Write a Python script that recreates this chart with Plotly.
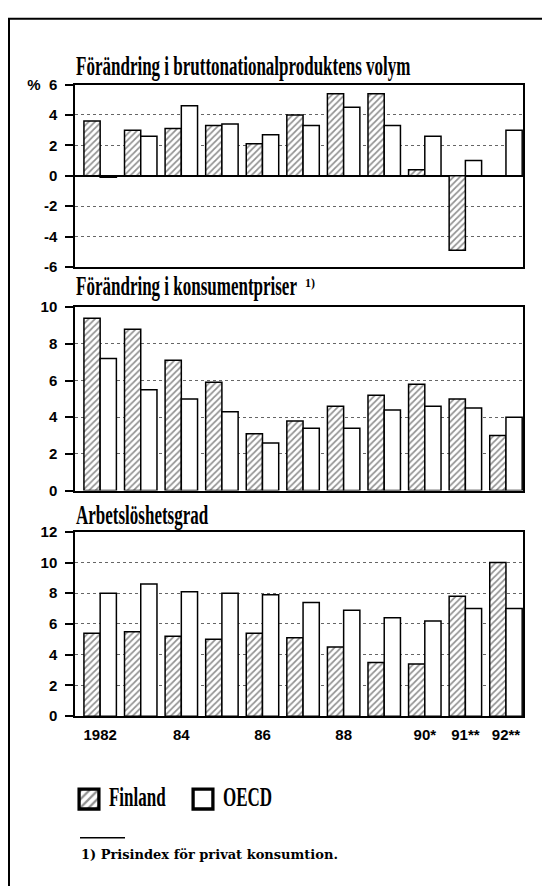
import plotly.graph_objects as go

# ---------------- data ----------------
years = [1982, 1983, 1984, 1985, 1986, 1987, 1988, 1989, 1990, 1991, 1992]
year_labels = ["1982", "", "84", "", "86", "", "88", "", "90*", "91**", "92**"]

gdp_finland = [3.6, 3.0, 3.1, 3.3, 2.1, 4.0, 5.4, 5.4, 0.4, -4.9, 0.0]
gdp_oecd = [-0.1, 2.6, 4.6, 3.4, 2.7, 3.3, 4.5, 3.3, 2.6, 1.0, 3.0]

cpi_finland = [9.4, 8.8, 7.1, 5.9, 3.1, 3.8, 4.6, 5.2, 5.8, 5.0, 3.0]
cpi_oecd = [7.2, 5.5, 5.0, 4.3, 2.6, 3.4, 3.4, 4.4, 4.6, 4.5, 4.0]

unemp_finland = [5.4, 5.5, 5.2, 5.0, 5.4, 5.1, 4.5, 3.5, 3.4, 7.8, 10.0]
unemp_oecd = [8.0, 8.6, 8.1, 8.0, 7.9, 7.4, 6.9, 6.4, 6.2, 7.0, 7.0]

titles = ["Förändring i bruttonationalproduktens volym",
          "Förändring i konsumentpriser",
          "Arbetslöshetsgrad"]
footnote_mark = "1)"
footnote = "1) Prisindex för privat konsumtion."

# ---------------- layout helpers ----------------
W, H = 542, 886
def px(x):
    return x / W
def py(y):
    return 1 - y / H

TITLE_FONT = dict(family="Liberation Serif", size=17, color="black", weight="bold")
TICK_FONT = dict(family="Liberation Sans", size=15, color="black", weight="bold")

fig = go.Figure()

panels = [
    (gdp_finland, gdp_oecd, "", "y"),
    (cpi_finland, cpi_oecd, "2", "y2"),
    (unemp_finland, unemp_oecd, "3", "y3"),
]

for i, (fin, oecd, sfx, yref) in enumerate(panels):
    xa = "x" + sfx
    fig.add_trace(go.Bar(
        x=years, y=fin, name="Finland", xaxis=xa, yaxis=yref,
        showlegend=(i == 0), legendgroup="fin",
        marker=dict(color="white",
                    line=dict(color="black", width=1.5),
                    pattern=dict(shape="/", fgcolor="#222222", bgcolor="white",
                                 size=4.5, solidity=0.38)),
    ))
    fig.add_trace(go.Bar(
        x=years, y=oecd, name="OECD", xaxis=xa, yaxis=yref,
        showlegend=(i == 0), legendgroup="oecd",
        marker=dict(color="white", line=dict(color="black", width=1.5)),
    ))

x_dom = [px(75), px(523)]
x_range = [1981.38, 1992.42]
y_doms = [[py(263), py(77)], [py(491), py(304)], [py(721), py(533)]]
y_ranges = [[-6, 6], [0, 10], [0, 12]]
y_ticks = [[-6, -4, -2, 0, 2, 4, 6], [0, 2, 4, 6, 8, 10], [0, 2, 4, 6, 8, 10, 12]]
y_ticktext = [["-6", "-4", "-2", "0", "2", "4", "%  6"],
              ["0", "2", "4", "6", "8", "10"],
              ["0", "2", "4", "6", "8", "10", "12"]]

common_x = dict(domain=x_dom, range=x_range, showgrid=False, zeroline=False,
                showline=True, mirror=True, linecolor="black", linewidth=1.5,
                tickvals=years, ticktext=year_labels, ticks="",
                tickfont=TICK_FONT, fixedrange=True)
common_y = dict(showgrid=True, gridcolor="#666666", griddash="dot", gridwidth=1,
                showline=True, mirror=True, linecolor="black", linewidth=1.5,
                ticks="outside", ticklen=8, tickcolor="black", tickwidth=1.5,
                ticklabelstandoff=5,
                tickfont=TICK_FONT, fixedrange=True)
# inner half of the crossing tick marks
inner_y = dict(showgrid=False, zeroline=False, showline=False, ticks="inside",
               ticklen=5, tickcolor="black", tickwidth=1.5, showticklabels=False,
               side="left", fixedrange=True)

fig.update_layout(
    xaxis=dict(common_x, anchor="y", showticklabels=False),
    xaxis2=dict(common_x, anchor="y2", showticklabels=False),
    xaxis3=dict(common_x, anchor="y3", showticklabels=True, ticklabelstandoff=4),
    yaxis=dict(common_y, domain=y_doms[0], range=y_ranges[0], anchor="x",
               tickvals=y_ticks[0], ticktext=y_ticktext[0],
               zeroline=True, zerolinecolor="black", zerolinewidth=1.5),
    yaxis2=dict(common_y, domain=y_doms[1], range=y_ranges[1], anchor="x2",
                tickvals=y_ticks[1], ticktext=y_ticktext[1], zeroline=False),
    yaxis3=dict(common_y, domain=y_doms[2], range=y_ranges[2], anchor="x3",
                tickvals=y_ticks[2], ticktext=y_ticktext[2], zeroline=False),
    yaxis4=dict(inner_y, overlaying="y", anchor="x", range=y_ranges[0], tickvals=y_ticks[0]),
    yaxis5=dict(inner_y, overlaying="y2", anchor="x2", range=y_ranges[1], tickvals=y_ticks[1]),
    yaxis6=dict(inner_y, overlaying="y3", anchor="x3", range=y_ranges[2], tickvals=y_ticks[2]),
)

# titles (first three annotations get the condensed look in post_script)
title_y = [62, 286, 519]
for t, yy in zip(titles, title_y):
    fig.add_annotation(text=t, x=px(74), y=py(yy), xref="paper", yref="paper",
                       xanchor="left", yanchor="middle", showarrow=False,
                       font=TITLE_FONT)

# footnote marker next to the second title
fig.add_annotation(text=footnote_mark, x=px(303), y=py(279), xref="paper", yref="paper",
                   xanchor="left", yanchor="middle", showarrow=False,
                   font=dict(family="Liberation Serif", size=12, color="black", weight="bold"))

# footnote
fig.add_annotation(text=footnote, x=px(79), y=py(862), xref="paper", yref="paper",
                   xanchor="left", yanchor="middle", showarrow=False,
                   font=dict(family="DejaVu Serif", size=13, color="black", weight="bold"))

# shapes: outer frame + footnote rule
fig.add_shape(type="rect", xref="paper", yref="paper",
              x0=px(9), y0=py(H + 10), x1=px(W + 10), y1=py(10),
              line=dict(color="black", width=2))
fig.add_shape(type="line", xref="paper", yref="paper",
              x0=px(80), x1=px(125), y0=py(845), y1=py(845),
              line=dict(color="black", width=1.5))

fig.update_layout(
    width=W, height=H,
    margin=dict(l=0, r=0, t=0, b=0),
    paper_bgcolor="white", plot_bgcolor="white",
    barmode="group", bargap=0.2, bargroupgap=0.0,
    legend=dict(orientation="h", x=px(69), y=py(806), xanchor="left", yanchor="middle",
                font=dict(family="Liberation Serif", size=17, color="black", weight="bold"),
                bgcolor="rgba(0,0,0,0)", itemsizing="constant", traceorder="normal",
                entrywidth=69, entrywidthmode="pixels"),
    hovermode=False,
)

post = """
(function(){
  var html = document.documentElement, body = document.body;
  html.style.margin = '0px'; html.style.padding = '0px'; html.style.overflow = 'hidden';
  body.style.margin = '0px'; body.style.padding = '0px'; body.style.overflow = 'hidden';
  body.style.height = '886px';
  var gd = document.getElementById('{plot_id}');
  if (gd) { gd.style.position = 'absolute'; gd.style.left = '0px'; gd.style.top = '0px'; }
  function condense(){
    var ann = document.querySelectorAll('.annotation-text');
    for (var i = 0; i < ann.length && i < 3; i++) {
      ann[i].style.transformBox = 'fill-box';
      ann[i].style.transformOrigin = '0% 80%';
      ann[i].style.transform = 'scaleY(1.55)';
    }
    var lt = document.querySelectorAll('.legendtext');
    for (var j = 0; j < lt.length; j++) {
      lt[j].style.transformBox = 'fill-box';
      lt[j].style.transformOrigin = '0% 80%';
      lt[j].style.transform = 'scaleY(1.6)';
    }
    var lp = document.querySelectorAll('.legendpoints path');
    for (var k = 0; k < lp.length; k++) {
      if (lp[k].getAttribute('data-big')) continue;
      var t = lp[k].getAttribute('transform') || '';
      lp[k].setAttribute('transform', t + ' scale(1.65)');
      lp[k].setAttribute('data-big', '1');
    }
  }
  condense();
  setTimeout(condense, 50);
  setTimeout(condense, 300);
})();
"""

fig.write_html("out.html",
               config={"displayModeBar": False},
               post_script=post)
